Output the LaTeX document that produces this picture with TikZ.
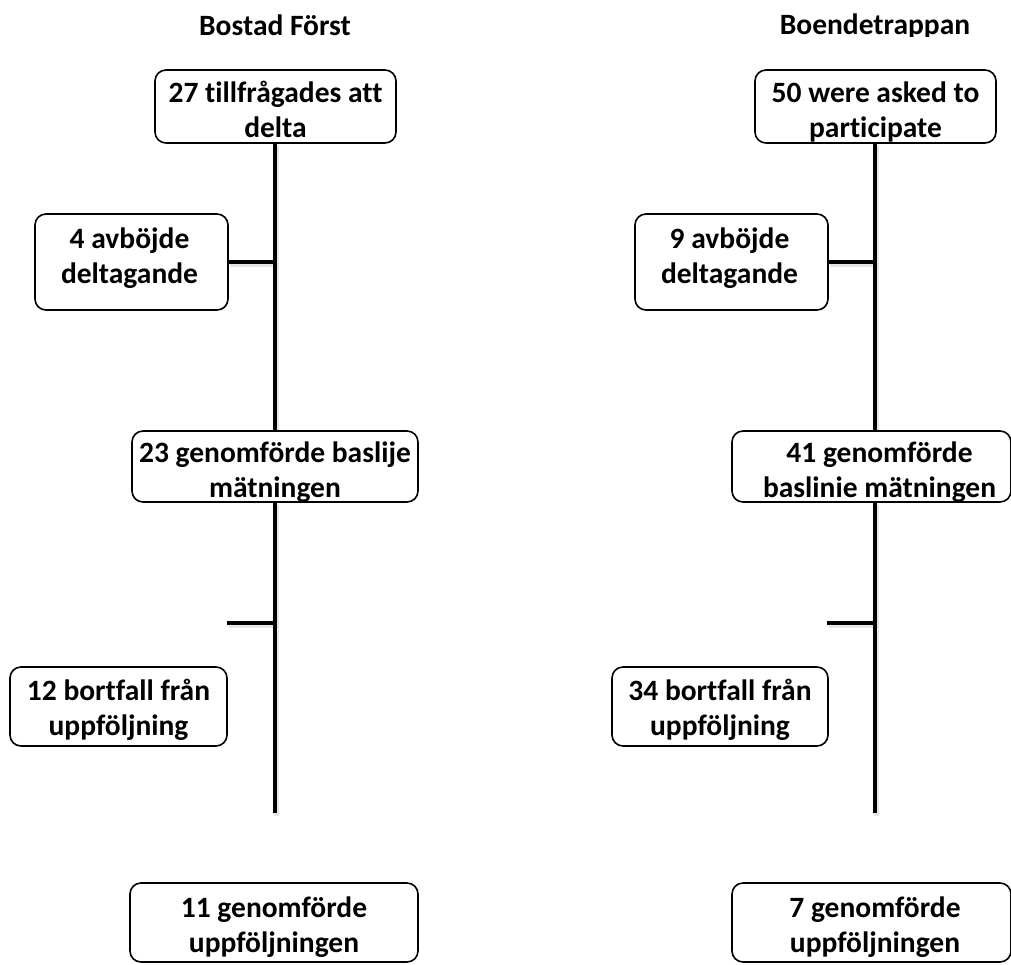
\documentclass[tikz,border=0pt]{standalone}
\usepackage{fontspec}
\setmainfont{Carlito}[Ligatures={NoCommon}]
\begin{document}
\begin{tikzpicture}[x=1pt,y=-1pt,
  box/.style={draw, line width=1.6pt, rounded corners=11pt, fill=white, inner sep=0pt},
  tl/.style={font=\bfseries\fontsize{29.5}{35}\selectfont, inner sep=0pt, anchor=base,
    draw=none, fill=none, minimum width=0pt, minimum height=0pt},
  stem/.style={line width=4.5pt, black},
  shade/.style={line width=5pt, black!10, transform canvas={shift={(1.5pt,-2.5pt)}}}
]
\useasboundingbox (0,0) rectangle (1011,964);

\newcommand\flowbox[8]{%
  \node[box, minimum width=#3pt, minimum height=#4pt, path picture={
    \node[tl] at ([xshift=#5pt, yshift=-#6pt]path picture bounding box.north) {#7};
    \node[tl] at ([xshift=#5pt, yshift=-#6pt-35pt]path picture bounding box.north) {#8};
  }] (#1) at #2 {};}

% titles
\node[tl] (t1) at (275,35) {Bostad Först};
\begin{scope}
  \clip (600,0) rectangle (1011,36);
  \node[tl] (t2) at (875,34) {Boendetrappan};
\end{scope}

% helper coordinates
\coordinate (lend) at (275,813);
\coordinate (rend) at (875,813);
\coordinate (ltick) at (227,623);
\coordinate (rtick) at (827,623);
\coordinate (ljoin) at (275,262);
\coordinate (rjoin) at (875,262);
\coordinate (ltop) at (275,143);
\coordinate (rtop) at (875,143);
\coordinate (lmidt) at (275,431);
\coordinate (rmidt) at (875,431);
\coordinate (lmidb) at (275,502);
\coordinate (rmidb) at (875,502);
\coordinate (ldecl) at (228,262);
\coordinate (rdecl) at (828,262);

% shadows
\foreach \s in {l,r}{
  \draw[shade] (\s top) -- (\s midt);
  \draw[shade] (\s midb) -- (\s end);
  \draw[shade] (\s decl) -- (\s join);
  \draw[shade] (\s tick) -- (\s tick -| \s end);
}

% stems
\foreach \s in {l,r}{
  \draw[stem] (\s top) -- (\s midt);
  \draw[stem] (\s midb) -- (\s end);
  \draw[stem] (\s decl) -- (\s join);
  \draw[stem] (\s tick) -- (\s tick -| \s end);
}

% boxes
\flowbox{b1}{(275.5,106.5)}{241}{73}{0}{32}{27 tillfrågades att}{delta}
\flowbox{b2}{(875.5,106.5)}{241}{73}{0}{32}{50 were asked to}{participate}
\flowbox{d1}{(131.5,262)}{193}{96}{-2}{34}{4 avböjde}{deltagande}
\flowbox{d2}{(731.5,262)}{193}{96}{-2}{34}{9 avböjde}{deltagande}
\flowbox{m1}{(275,466.5)}{286}{71}{0}{31}{23 genomförde baslije}{mätningen}
\flowbox{m2}{(871.5,466.5)}{279}{71}{8}{31}{41 genomförde}{baslinie mätningen}
\flowbox{f1}{(118.5,706.5)}{217}{79}{0}{33}{12 bortfall från}{uppföljning}
\flowbox{f2}{(720,706.5)}{216}{79}{0}{33}{34 bortfall från}{uppföljning}
\flowbox{e1}{(274,922.5)}{288}{79}{0}{34}{11 genomförde}{uppföljningen}
\flowbox{e2}{(871.5,922.5)}{279}{79}{3.5}{34}{7 genomförde}{uppföljningen}
\end{tikzpicture}
\end{document}
